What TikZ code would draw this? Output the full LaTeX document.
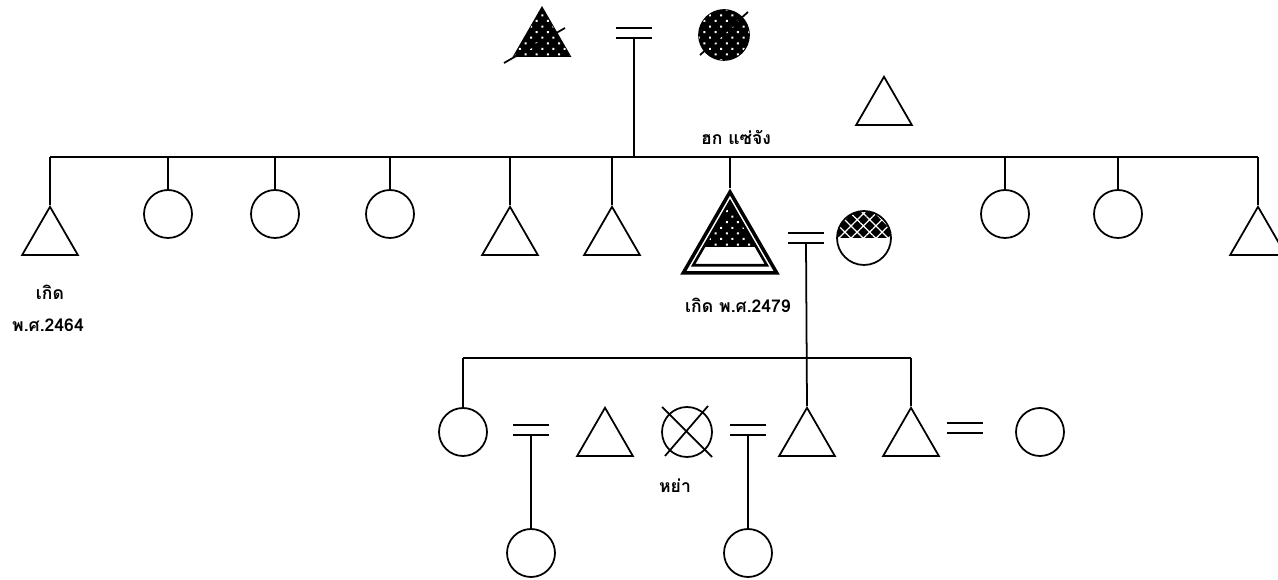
\documentclass[tikz,border=0pt]{standalone}
\usepackage{fontspec}
\newfontfamily\thaifont[Script=Thai]{Loma}
\usetikzlibrary{shapes.geometric, calc, patterns.meta}
\newcommand{\wed}[2]{%
  \coordinate (#1) at (#2);
  \draw ($(#1)+(-18,0)$) -- ($(#1)+(18,0)$);
  \draw ($(#1)+(-18,-10)$) -- ($(#1)+(18,-10)$);}

\begin{document}
\begin{tikzpicture}[x=0.02cm, y=-0.02cm, line width=1pt,
  male/.style={draw, regular polygon, regular polygon sides=3,
               minimum size=1.29cm, inner sep=0pt},
  female/.style={draw, circle, minimum size=0.96cm, inner sep=0pt},
  dotfill/.style={fill=black, postaction={pattern={Dots[distance=4.5pt, angle=45, radius=0.8pt]},
                  pattern color=white}},
  netfill/.style={fill=black, postaction={pattern={Hatch[distance=5pt, angle=45, line width=0.7pt]},
                  pattern color=white}},
  note/.style={font={\thaifont\bfseries\fontsize{10}{12}\selectfont}}]
  \useasboundingbox (0,0) rectangle (1278,580);

  % parents
  \node[male, dotfill] (fa) at (542,40) {};
  \draw (504,63) -- (565,28);
  \node[female, dotfill, minimum size=1cm] (mo) at (724,35) {};
  \draw (700,55) -- (748,12);
  \wed{m0}{634,38}
  \node[male] (ut) at (884,109) {};
  \node[note] (name) at (736,137) {ฮก แซ่จัง};

  % siblings
  \coordinate (bar) at (0,157);
  \coordinate (egocut) at (730,247);
  \node[male] (s1) at (50,239) {};
  \node[female] (s2) at (168,214) {};
  \node[female] (s3) at (275,214) {};
  \node[female] (s4) at (390,214) {};
  \node[male] (s5) at (510,239) {};
  \node[male] (s6) at (612,239) {};
  \node[male, line width=2pt, minimum size=2.16cm] (ego) at (730,246) {};
  \node[male, line width=1.5pt, minimum size=1.7cm,
        path picture={\fill[dotfill] (path picture bounding box.north west)
          rectangle (path picture bounding box.east |- egocut);}] (egoin) at (730,244) {};
  \node[female] (s8) at (1005,214) {};
  \node[female] (s9) at (1118,214) {};
  \node[male] (s10) at (1258,239) {};
  \node[note] (bornA) at (50,292) {เกิด};
  \node[note] (yearA) at (48,325) {พ.ศ.2464};
  \node[note] (bornB) at (738,305) {เกิด พ.ศ.2479};

  \draw (m0) -- (m0 |- bar);
  \draw (s1.north |- bar) -- (s10.north |- bar);
  \foreach \s in {s1,s2,s3,s4,s5,s6,ego,s8,s9,s10}
    \draw (\s.north |- bar) -- (\s.north);

  % ego's marriage
  \wed{m1}{806,243}
  \node[female, minimum size=1.08cm,
        path picture={\fill[netfill] (path picture bounding box.north west)
          rectangle (path picture bounding box.east);}] (sp) at (864,238) {};

  % children
  \coordinate (kbar) at (0,358);
  \node[female] (c1) at (463,432) {};
  \wed{m2}{531,435}
  \node[male] (c2) at (605,440) {};
  \node[female, minimum size=1cm] (c3) at (687,432) {};
  \draw (662,407) -- (712,457);
  \draw (708,406) -- (665,456);
  \node[note] (div) at (675,486) {หย่า};
  \wed{m3}{748,435}
  \node[male] (c4) at (807,440) {};
  \node[male] (c5) at (911,440) {};
  \wed{m4}{965,433}
  \node[female] (c6) at (1040,432) {};

  \draw (c1.north |- kbar) -- (c5.north |- kbar);
  \draw (c1.north |- kbar) -- (c1.north);
  \draw (c5.north |- kbar) -- (c5.north);
  \draw (m1) -- (c4.north);

  % grandchildren
  \node[female] (g1) at (531,553) {};
  \node[female] (g2) at (748,553) {};
  \draw (m2) -- (g1.north);
  \draw (m3) -- (g2.north);
\end{tikzpicture}
\end{document}
